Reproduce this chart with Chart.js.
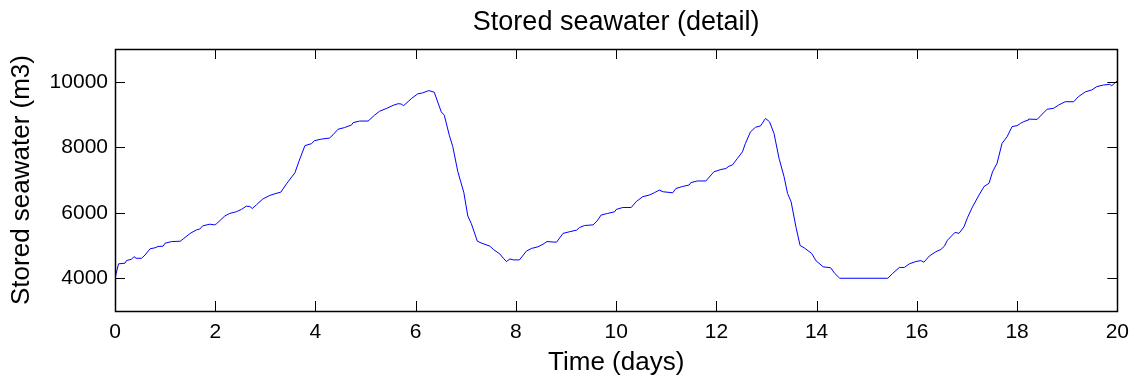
<!DOCTYPE html>
<html>
<head>
<meta charset="utf-8">
<title>Stored seawater (detail)</title>
<script src="https://cdn.jsdelivr.net/npm/chart.js@4.4.1/dist/chart.umd.min.js"></script>
<style>
  html, body { margin: 0; padding: 0; background: #fff; }
  #wrap { width: 1138px; height: 383px; }
</style>
</head>
<body>
<div id="wrap"><canvas id="grafico" width="1138" height="383"></canvas></div>
<script>
// --- DATI ---
const giorni = [
  0, 0.07, 0.2, 0.23, 0.33, 0.38, 0.42, 0.53, 0.6, 0.7, 0.8, 0.86, 0.96, 1.0,
  1.13, 1.3, 1.36, 1.5, 1.63, 1.69, 1.75, 1.89, 1.99, 2.03, 2.19, 2.29, 2.42,
  2.52, 2.62, 2.69, 2.74, 2.82, 2.95, 3.09, 3.19, 3.31, 3.42, 3.59, 3.67, 3.79,
  3.92, 3.98, 4.12, 4.28, 4.35, 4.45, 4.58, 4.72, 4.75, 4.88, 5.05, 5.18, 5.28,
  5.41, 5.55, 5.65, 5.71, 5.76, 5.91, 6.04, 6.14, 6.26, 6.37, 6.51, 6.57, 6.67,
  6.74, 6.84, 6.96, 7.04, 7.11, 7.23, 7.32, 7.48, 7.55, 7.68, 7.75, 7.81, 7.88,
  7.95, 8.07, 8.21, 8.31, 8.44, 8.54, 8.62, 8.81, 8.94, 9.07, 9.21, 9.27, 9.37,
  9.54, 9.62, 9.70, 9.83, 9.97, 10.0, 10.13, 10.3, 10.4, 10.53, 10.66, 10.76,
  10.86, 10.94, 11.13, 11.19, 11.32, 11.46, 11.49, 11.62, 11.79, 11.95, 12.09,
  12.19, 12.25, 12.32, 12.42, 12.52, 12.58, 12.68, 12.78, 12.88, 12.98, 13.06,
  13.15, 13.25, 13.35, 13.42, 13.49, 13.59, 13.67, 13.75, 13.90, 13.99, 14.13,
  14.28, 14.36, 14.46, 15.42, 15.52, 15.65, 15.75, 15.85, 15.98, 16.08, 16.14,
  16.25, 16.38, 16.48, 16.55, 16.61, 16.71, 16.76, 16.84, 16.94, 17.01, 17.11,
  17.24, 17.34, 17.44, 17.51, 17.60, 17.70, 17.80, 17.90, 18.0, 18.07, 18.13,
  18.22, 18.23, 18.40, 18.50, 18.60, 18.73, 18.83, 18.96, 19.13, 19.22, 19.36,
  19.49, 19.59, 19.72, 19.85, 19.89, 20.0
];
const acquaStoccata = [
  4000, 4440, 4460, 4540, 4580, 4660, 4610, 4610, 4710, 4900, 4930, 4970, 4980, 5070,
  5120, 5130, 5200, 5370, 5480, 5500, 5600, 5650, 5630, 5670, 5900, 5980, 6030,
  6100, 6200, 6190, 6130, 6240, 6420, 6530, 6580, 6630, 6880, 7220, 7570, 8050,
  8110, 8200, 8250, 8280, 8380, 8550, 8600, 8680, 8750, 8800, 8800, 8980, 9100,
  9180, 9280, 9330, 9320, 9270, 9480, 9630, 9660, 9730, 9680, 9080, 8980, 8370,
  8020, 7260, 6620, 5900, 5670, 5130, 5070, 4980, 4880, 4740, 4610, 4510, 4590,
  4560, 4560, 4830, 4910, 4960, 5040, 5120, 5100, 5370, 5420, 5470, 5550, 5610,
  5630, 5750, 5930, 5980, 6030, 6100, 6160, 6160, 6340, 6490, 6540, 6610,
  6690, 6640, 6610, 6740, 6800, 6850, 6920, 6970, 6970, 7250, 7320,
  7350, 7420, 7460, 7660, 7860, 8120, 8470, 8610, 8650, 8880, 8780,
  8420, 7660, 7100, 6590, 6340, 5550, 5000, 4930, 4760, 4530, 4350,
  4320, 4150, 4000, 4000, 4150, 4330, 4330, 4440, 4510, 4540, 4490,
  4680, 4810, 4880, 4980, 5160, 5320, 5400, 5370, 5570, 5850, 6180,
  6540, 6800, 6900, 7250, 7510, 8120, 8320, 8630, 8660, 8730, 8780,
  8830, 8860, 8850, 9010, 9160, 9190, 9290, 9390, 9390, 9540, 9690,
  9750, 9850, 9900, 9920, 9880, 10030
];
const tickY = [4000, 6000, 8000, 10000];
const tickX = [0, 2, 4, 6, 8, 10, 12, 14, 16, 18, 20];

const FONT = "'Liberation Sans', Arial, Helvetica, sans-serif";

// --- BOX E TACCHE INTERNE STILE MATLAB ---
const boxMatlab = {
  id: 'boxMatlab',
  afterDraw(chart) {
    const { ctx, chartArea: a, scales } = chart;
    const lung = 10;
    ctx.save();
    ctx.strokeStyle = '#000';
    ctx.lineWidth = 1;
    ctx.beginPath();
    tickX.forEach(v => {
      const x = Math.round(scales.x.getPixelForValue(v)) + 0.5;
      ctx.moveTo(x, a.bottom); ctx.lineTo(x, a.bottom - lung);
      ctx.moveTo(x, a.top); ctx.lineTo(x, a.top + lung);
    });
    tickY.forEach(v => {
      const y = Math.round(scales.y.getPixelForValue(v)) + 0.5;
      ctx.moveTo(a.left, y); ctx.lineTo(a.left + lung, y);
      ctx.moveTo(a.right, y); ctx.lineTo(a.right - lung, y);
    });
    ctx.stroke();
    ctx.lineWidth = 1.5;
    ctx.strokeRect(Math.round(a.left) + 0.5, Math.round(a.top) + 0.5,
      Math.round(a.right - a.left), Math.round(a.bottom - a.top));
    ctx.restore();
  }
};

const ctx = document.getElementById('grafico').getContext('2d');
new Chart(ctx, {
  type: 'line',
  data: {
    datasets: [{
      data: giorni.map((g, i) => ({ x: g, y: acquaStoccata[i] })),
      borderColor: '#0000ff',
      borderWidth: 1,
      pointRadius: 0,
      tension: 0,
      fill: false
    }]
  },
  options: {
    responsive: false,
    animation: false,
    devicePixelRatio: 1,
    layout: { padding: { left: 0, right: 19, top: 0, bottom: 0 } },
    plugins: {
      legend: { display: false },
      tooltip: { enabled: false },
      title: {
        display: true,
        fullSize: false,
        text: 'Stored seawater (detail)',
        color: '#000',
        font: { family: FONT, size: 27, weight: 'normal', lineHeight: 1.2 },
        padding: { top: 6, bottom: 10.6 }
      }
    },
    scales: {
      x: {
        type: 'linear',
        min: 0,
        max: 20,
        afterBuildTicks: s => { s.ticks = tickX.map(v => ({ value: v })); },
        afterFit: s => { s.height = 72; },
        grid: { display: false, drawTicks: false },
        border: { display: false },
        ticks: {
          color: '#000',
          padding: 9,
          maxRotation: 0,
          font: { family: FONT, size: 21 },
          callback: v => String(v)
        },
        title: {
          display: true,
          text: 'Time (days)',
          color: '#000',
          font: { family: FONT, size: 26, lineHeight: 1.2 },
          padding: { top: 0, bottom: 5 }
        }
      },
      y: {
        type: 'linear',
        min: 3000,
        max: 11000,
        afterBuildTicks: s => { s.ticks = tickY.map(v => ({ value: v })); },
        afterFit: s => { s.width = 115; },
        grid: { display: false, drawTicks: false },
        border: { display: false },
        ticks: {
          color: '#000',
          padding: 7,
          font: { family: FONT, size: 21 },
          callback: v => String(v)
        },
        title: {
          display: true,
          text: 'Stored seawater (m3)',
          color: '#000',
          font: { family: FONT, size: 26, lineHeight: 1.2 },
          padding: { top: 6, bottom: 0 }
        }
      }
    }
  },
  plugins: [boxMatlab]
});
</script>
</body>
</html>
